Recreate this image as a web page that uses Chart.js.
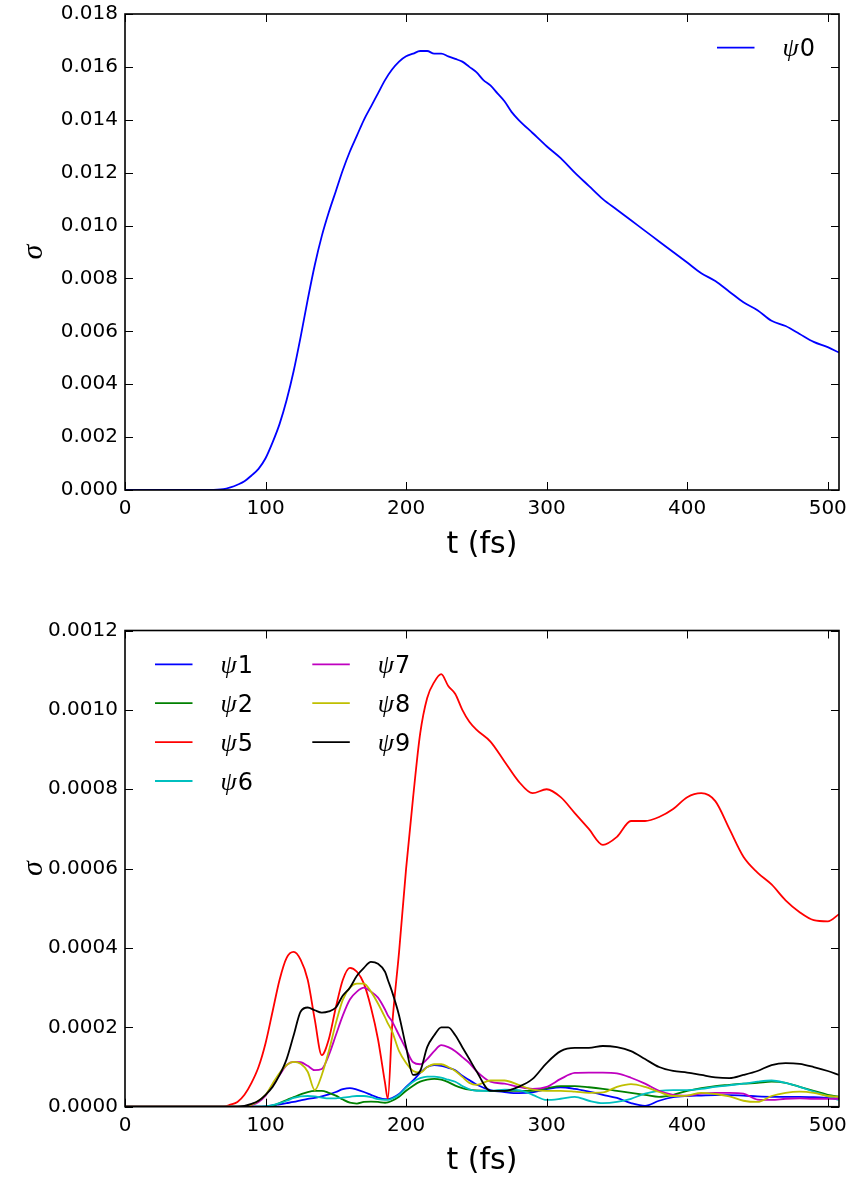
<!DOCTYPE html>
<html>
<head>
<meta charset="utf-8">
<script src="https://cdn.jsdelivr.net/npm/chart.js@4.4.1/dist/chart.umd.min.js"></script>
<style>
  html, body { margin: 0; padding: 0; background: #fff; }
  #wrap { position: relative; width: 851px; height: 1181px; }
  canvas { position: absolute; left: 0; }
  #c0 { top: 0; }
  #c1 { top: 590px; }
</style>
</head>
<body>
<div id="wrap">
  <canvas id="c0" width="851" height="590"></canvas>
  <canvas id="c1" width="851" height="591"></canvas>
</div>
<script>
// ---- values ----

// top panel: time (fs) and sigma of psi0
const tTop = [0, 60,
  70, 75, 80, 85, 90, 95, 100, 105, 110, 115, 120, 125, 130, 135,
  140, 145, 150, 155, 160, 165, 170, 175, 180, 185, 190, 195, 200, 205,
  210, 215, 220, 225, 230, 235, 240, 245, 250, 255, 260, 265, 270, 275, 280,
  290, 300, 310, 320, 330, 340, 350, 360, 370, 380, 390, 400,
  410, 420, 430, 440, 450, 460, 470, 480, 490, 500, 508];
const psi0 = [0, 0,
  0.00003, 0.0001, 0.0002, 0.00033, 0.00055, 0.0008, 0.0012, 0.0018, 0.0025, 0.0034, 0.0045, 0.0058, 0.0072, 0.0085,
  0.0096, 0.0105, 0.0113, 0.0121, 0.0128, 0.0134, 0.0140, 0.0145, 0.0150, 0.0155, 0.0159, 0.0162, 0.0164, 0.0165,
  0.0166, 0.0166, 0.0165, 0.0165, 0.0164, 0.0163, 0.0162, 0.0160, 0.0158, 0.0155, 0.0153, 0.0150, 0.0147, 0.0143, 0.0140,
  0.0135, 0.0130, 0.01255, 0.0120, 0.0115, 0.0110, 0.0106, 0.0102, 0.0098, 0.0094, 0.0090, 0.0086,
  0.0082, 0.0079, 0.0075, 0.0071, 0.0068, 0.0064, 0.0062, 0.0059, 0.0056, 0.0054, 0.0052];

// bottom panel: shared time grid (fs)
const tBottom = [0, 70, 75, 80, 85, 90, 95,
  100, 105, 110, 115, 120, 125, 130, 135,
  140, 145, 150, 155, 160, 165, 170, 175, 180, 185,
  187, 190, 195, 200, 205, 210, 215, 220, 225, 230, 235, 240, 245, 250,
  260, 270, 280, 290, 300, 310, 320, 330, 340, 350,
  360, 370, 380, 390, 400, 410, 420, 430, 440, 450,
  460, 470, 480, 490, 500, 508];

const psi1 = [0, 0, 0, 0, 0, 0, 0,
  0.000001, 0.000003, 0.000006, 0.000009, 0.000012, 0.000016, 0.00002, 0.000022,
  0.000026, 0.000031, 0.000037, 0.000044, 0.000047, 0.000043, 0.000037, 0.00003, 0.000023, 0.000019,
  0.000019, 0.000022, 0.000032, 0.00005, 0.000066, 0.000085, 0.0001, 0.000105, 0.000103, 0.000098, 0.000092, 0.000078, 0.000067, 0.000056,
  0.000042, 0.000037, 0.000034, 0.000036, 0.000044, 0.000049, 0.000045, 0.000038, 0.00003, 0.000022,
  0.000009, 0.000002, 0.000015, 0.000024, 0.000027, 0.000028, 0.000029, 0.000029, 0.000028, 0.000026,
  0.000025, 0.000025, 0.000025, 0.000024, 0.000022, 0.00002];

const psi2 = [0, 0, 0, 0, 0, 0, 0,
  0, 0.000003, 0.000009, 0.000017, 0.000024, 0.000031, 0.000037, 0.00004,
  0.00004, 0.000035, 0.000028, 0.000018, 0.00001, 0.000008, 0.000012, 0.000013, 0.000012, 0.00001,
  0.000011, 0.000015, 0.000025, 0.00004, 0.000053, 0.000063, 0.000068, 0.00007, 0.000068, 0.000062, 0.000053, 0.000047, 0.000043, 0.000041,
  0.00004, 0.00004, 0.00004, 0.00004, 0.000046, 0.000052, 0.000052, 0.000049, 0.000045, 0.00004,
  0.000035, 0.00003, 0.000025, 0.00003, 0.00004, 0.000047, 0.000052, 0.000055, 0.000058, 0.00006,
  0.000063, 0.00006, 0.00005, 0.00004, 0.00003, 0.000025];

const psi5 = [0, 0, 0.000005, 0.000012, 0.00003, 0.00006, 0.0001,
  0.00016, 0.00024, 0.00032, 0.000375, 0.00039, 0.00037, 0.00032, 0.00022,
  0.00013, 0.00017, 0.00025, 0.00032, 0.00035, 0.00034, 0.00031, 0.00025, 0.00017, 0.00006,
  0.00002, 0.0002, 0.00039, 0.0006, 0.00078, 0.00094, 0.00103, 0.00107, 0.00109, 0.00106, 0.00104, 0.001, 0.00097, 0.00095,
  0.00092, 0.00087, 0.00082, 0.00079, 0.0008, 0.00078, 0.00074, 0.0007, 0.00066, 0.00068,
  0.00072, 0.00072, 0.00073, 0.00075, 0.00078, 0.00079, 0.00077, 0.0007, 0.00063, 0.00059,
  0.00056, 0.00052, 0.00049, 0.00047, 0.000467, 0.000485];

const psi6 = [0, 0, 0, 0, 0, 0, 0,
  0.000001, 0.000004, 0.000009, 0.000015, 0.000022, 0.000026, 0.000027, 0.000026,
  0.000023, 0.000021, 0.000021, 0.000023, 0.000025, 0.000027, 0.000027, 0.000024, 0.000019, 0.000017,
  0.000017, 0.00002, 0.00003, 0.000048, 0.000063, 0.000072, 0.000076, 0.000076, 0.000073, 0.000068, 0.000063, 0.000052, 0.000044, 0.00004,
  0.00004, 0.000043, 0.000042, 0.00003, 0.000017, 0.00002, 0.000025, 0.000015, 0.000009, 0.000012,
  0.00002, 0.000033, 0.00004, 0.000042, 0.000042, 0.000045, 0.00005, 0.000054, 0.000058, 0.000063,
  0.000066, 0.00006, 0.00005, 0.000038, 0.000026, 0.000017];

const psi7 = [0, 0, 0, 0, 0, 0.000004, 0.000012,
  0.000028, 0.000055, 0.00008, 0.000105, 0.000113, 0.000112, 0.000103, 0.000092,
  0.000095, 0.00013, 0.00018, 0.00023, 0.00027, 0.00029, 0.0003, 0.00029, 0.000275, 0.000245,
  0.00023, 0.000215, 0.00018, 0.000145, 0.000112, 0.000107, 0.00012, 0.00014, 0.000155, 0.00015, 0.00014, 0.000125, 0.00011, 0.00009,
  0.000063, 0.000058, 0.00005, 0.000045, 0.00005, 0.00007, 0.000085, 0.000086, 0.000086, 0.000084,
  0.000073, 0.000058, 0.00004, 0.00003, 0.000028, 0.000033, 0.000035, 0.000035, 0.000033, 0.000018,
  0.000017, 0.00002, 0.000021, 0.00002, 0.00002, 0.00002];

const psi8 = [0, 0, 0, 0, 0, 0.000005, 0.000015,
  0.00003, 0.000058, 0.000085, 0.000105, 0.000113, 0.000108, 0.000088, 0.000042,
  0.00008, 0.00014, 0.00021, 0.00027, 0.0003, 0.00031, 0.00031, 0.00029, 0.00026, 0.000225,
  0.00021, 0.00019, 0.00014, 0.00011, 0.00009, 0.000086, 0.0001, 0.000107, 0.000107, 0.0001, 0.00009, 0.000075, 0.00006, 0.000055,
  0.000066, 0.000066, 0.000055, 0.000043, 0.00004, 0.00004, 0.000038, 0.000035, 0.000036, 0.00005,
  0.000057, 0.00005, 0.000037, 0.000027, 0.000028, 0.000035, 0.000032, 0.000026, 0.000015, 0.000012,
  0.000027, 0.000035, 0.000038, 0.000035, 0.000027, 0.000025];

const psi9 = [0, 0, 0, 0, 0.000002, 0.000007, 0.000015,
  0.00003, 0.00005, 0.00008, 0.00012, 0.00018, 0.00024, 0.00025, 0.000243,
  0.000237, 0.00024, 0.00025, 0.00028, 0.0003, 0.00033, 0.00035, 0.000365, 0.00036, 0.00034,
  0.00032, 0.00029, 0.00023, 0.00015, 0.00008, 0.00009, 0.00015, 0.00018, 0.0002, 0.0002, 0.00018, 0.00015, 0.00012, 0.00009,
  0.00004, 0.00004, 0.00005, 0.00007, 0.00011, 0.00014, 0.000148, 0.000148, 0.000153, 0.00015,
  0.00014, 0.00012, 0.0001, 0.00009, 0.000086, 0.00008, 0.000074, 0.000072, 0.00008, 0.00009,
  0.000105, 0.00011, 0.000108, 0.0001, 0.00009, 0.00008];

// tick labels
const xTicks = [0, 100, 200, 300, 400, 500];
const yTicksTop = [0, 0.002, 0.004, 0.006, 0.008, 0.01, 0.012, 0.014, 0.016, 0.018];
const yTicksBottom = [0, 0.0002, 0.0004, 0.0006, 0.0008, 0.001, 0.0012];

// ---- helpers ----
const TICK_FONT = { family: "'DejaVu Sans'", size: 20 };
const toPoints = (xs, ys) => xs.map((x, i) => ({ x, y: ys[i] }));

function line(label, color, xs, ys, order) {
  return {
    label,
    data: toPoints(xs, ys),
    borderColor: color,
    backgroundColor: color,
    borderWidth: 1.8,
    pointRadius: 0,
    showLine: true,
    fill: false,
    cubicInterpolationMode: "monotone",
    order,
  };
}

function xAxis() {
  return {
    type: "linear",
    min: 0,
    max: 508,
    afterBuildTicks: (s) => { s.ticks = xTicks.map((v) => ({ value: v })); },
    afterFit: (s) => { s.height = 73; s.paddingLeft = 0; s.paddingRight = 0; },
    grid: { display: false, drawTicks: false },
    border: { display: false },
    ticks: { font: TICK_FONT, color: "#000", padding: 7, maxRotation: 0, autoSkip: false },
    title: {
      display: true, text: "t (fs)", color: "#000", padding: 0,
      font: { family: "'DejaVu Sans'", size: 30 },
    },
  };
}

function yAxis(max, ticks, digits) {
  return {
    type: "linear",
    min: 0,
    max,
    afterBuildTicks: (s) => { s.ticks = ticks.map((v) => ({ value: v })); },
    afterFit: (s) => { s.width = 109; s.paddingTop = 0; s.paddingBottom = 0; },
    grid: { display: false, drawTicks: false },
    border: { display: false },
    ticks: { font: TICK_FONT, color: "#000", padding: 7, callback: (v) => Number(v).toFixed(digits) },
    title: {
      display: true, text: "σ", color: "#000", padding: 0,
      font: { family: "'Liberation Serif'", style: "italic", size: 30 },
    },
  };
}

// matplotlib-like frame with inward ticks on all four sides
const frameTicks = {
  id: "frameTicks",
  afterDatasetsDraw(chart) {
    const { ctx, chartArea: a, scales } = chart;
    ctx.save();
    ctx.strokeStyle = "#000";
    ctx.lineWidth = 1;
    ctx.beginPath();
    for (const t of scales.x.ticks) {
      const px = Math.round(scales.x.getPixelForValue(t.value)) + 0.5;
      ctx.moveTo(px, a.bottom); ctx.lineTo(px, a.bottom - 8);
      ctx.moveTo(px, a.top); ctx.lineTo(px, a.top + 8);
    }
    for (const t of scales.y.ticks) {
      const py = Math.round(scales.y.getPixelForValue(t.value)) + 0.5;
      ctx.moveTo(a.left, py); ctx.lineTo(a.left + 8, py);
      ctx.moveTo(a.right, py); ctx.lineTo(a.right - 8, py);
    }
    ctx.stroke();
    ctx.lineWidth = 1.6;
    ctx.strokeRect(a.left, a.top, a.right - a.left, a.bottom - a.top);
    ctx.restore();
  },
};

// frameless legend inside the axes, column-major like matplotlib's ncol
const psiLegend = {
  id: "psiLegend",
  afterDraw(chart, args, opts) {
    const { ctx, chartArea: a } = chart;
    const base = opts.anchor === "right" ? a.right : a.left;
    ctx.save();
    chart.data.datasets.forEach((ds, i) => {
      const col = Math.floor(i / opts.perColumn);
      const row = i % opts.perColumn;
      const x0 = base + opts.dx + col * opts.colGap;
      const y = a.top + opts.dy + row * opts.rowGap;
      ctx.strokeStyle = ds.borderColor;
      ctx.lineWidth = ds.borderWidth;
      ctx.beginPath();
      ctx.moveTo(x0, y);
      ctx.lineTo(x0 + 37.5, y);
      ctx.stroke();
      const baseline = y + 8.7;
      ctx.fillStyle = "#000";
      ctx.textBaseline = "alphabetic";
      ctx.font = "italic 26px 'Liberation Serif'";
      const greek = ds.label.charAt(0);
      ctx.fillText(greek, x0 + 65.5, baseline);
      const w = ctx.measureText(greek).width;
      ctx.font = "24px 'DejaVu Sans'";
      ctx.fillText(ds.label.slice(1), x0 + 65.5 + w + 1, baseline);
    });
    ctx.restore();
  },
};

Chart.defaults.animation = false;

new Chart(document.getElementById("c0"), {
  type: "scatter",
  data: { datasets: [line("ψ0", "#0000ff", tTop, psi0, 0)] },
  options: {
    responsive: false,
    layout: { padding: { left: 16, right: 12, top: 14, bottom: 27 } },
    plugins: {
      legend: { display: false },
      tooltip: { enabled: false },
      psiLegend: { anchor: "right", dx: -122, dy: 33.7, perColumn: 4, colGap: 157, rowGap: 39 },
    },
    scales: { x: xAxis(), y: yAxis(0.018, yTicksTop, 3) },
  },
  plugins: [frameTicks, psiLegend],
});

const bottomSeries = [
  ["ψ1", "#0000ff", psi1],
  ["ψ2", "#008000", psi2],
  ["ψ5", "#ff0000", psi5],
  ["ψ6", "#00bfbf", psi6],
  ["ψ7", "#bf00bf", psi7],
  ["ψ8", "#bfbf00", psi8],
  ["ψ9", "#000000", psi9],
];

new Chart(document.getElementById("c1"), {
  type: "scatter",
  data: {
    // later series drawn on top, as in matplotlib
    datasets: bottomSeries.map(([label, color, vals], i) =>
      line(label, color, tBottom, vals, bottomSeries.length - i)),
  },
  options: {
    responsive: false,
    layout: { padding: { left: 16, right: 12, top: 40.5, bottom: 1.3 } },
    plugins: {
      legend: { display: false },
      tooltip: { enabled: false },
      psiLegend: { anchor: "left", dx: 30, dy: 33.8, perColumn: 4, colGap: 157.3, rowGap: 38.9 },
    },
    scales: { x: xAxis(), y: yAxis(0.0012, yTicksBottom, 4) },
  },
  plugins: [frameTicks, psiLegend],
});
</script>
</body>
</html>
